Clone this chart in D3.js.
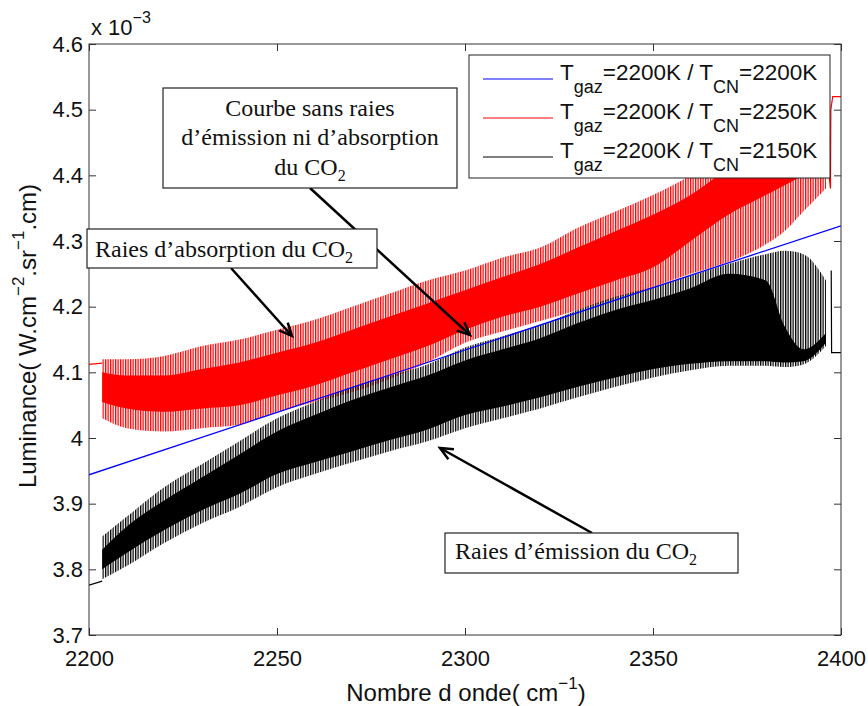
<!DOCTYPE html>
<html lang="fr">
<head>
<meta charset="UTF-8">
<title>Luminance CO2</title>
<script src="https://cdn.jsdelivr.net/npm/d3@7"></script>
<style>
  body { margin: 0; background: #fff; }
  svg text { font-family: "Liberation Sans", Arial, sans-serif; fill: #111; }
  .note text { font-family: "Liberation Serif", "Times New Roman", serif; }
</style>
</head>
<body>
<div id="chart"></div>
<script>
// wavenumber grid (cm-1) at which the band envelopes were read
const wn = [2203.5, 2210, 2220, 2230, 2240, 2250, 2260, 2270, 2280, 2290, 2300,
            2310, 2320, 2330, 2340, 2350, 2360, 2370, 2380, 2385, 2390, 2396];

// T_CN = 2250K (red) : extent of the lines and dense core
const redMax = [4.12, 4.12, 4.125, 4.14, 4.15, 4.165, 4.18, 4.2, 4.22, 4.24, 4.255,
                4.275, 4.29, 4.32, 4.345, 4.37, 4.40, 4.44, 4.47, 4.48, 4.49, 4.50];
const redMin = [4.03, 4.015, 4.01, 4.015, 4.02, 4.04, 4.055, 4.07, 4.09, 4.115, 4.145,
                4.162, 4.178, 4.195, 4.213, 4.23, 4.25, 4.268, 4.295, 4.315, 4.345, 4.38];
const redHi  = [4.10, 4.095, 4.095, 4.105, 4.115, 4.13, 4.145, 4.165, 4.185, 4.205, 4.225,
                4.245, 4.265, 4.29, 4.315, 4.34, 4.37, 4.41, 4.44, 4.45, 4.46, 4.47];
const redLo  = [4.055, 4.045, 4.04, 4.045, 4.05, 4.065, 4.08, 4.1, 4.12, 4.14, 4.165,
                4.185, 4.2, 4.22, 4.24, 4.26, 4.30, 4.34, 4.37, 4.385, 4.40, 4.42];
const redHead = [[2200, 4.112], [2203.5, 4.114]];
const redTail = [[2396, 4.44], [2397.2, 4.38], [2397.3, 4.50], [2397.8, 4.52], [2400, 4.52]];

// T_CN = 2150K (black)
const blackMax = [3.85, 3.88, 3.925, 3.96, 3.995, 4.03, 4.055, 4.078, 4.095, 4.112, 4.138,
                  4.155, 4.172, 4.195, 4.215, 4.23, 4.247, 4.265, 4.28, 4.285, 4.28, 4.24];
const blackMin = [3.785, 3.805, 3.84, 3.87, 3.895, 3.925, 3.945, 3.963, 3.98, 3.995, 4.015,
                  4.03, 4.045, 4.062, 4.078, 4.092, 4.103, 4.11, 4.11, 4.108, 4.112, 4.14];
const blackHi  = [3.83, 3.865, 3.905, 3.94, 3.975, 4.01, 4.035, 4.058, 4.077, 4.095, 4.118,
                  4.135, 4.152, 4.175, 4.195, 4.21, 4.228, 4.25, 4.24, 4.17, 4.135, 4.16];
const blackLo  = [3.80, 3.825, 3.86, 3.89, 3.915, 3.945, 3.963, 3.98, 3.997, 4.013, 4.035,
                  4.048, 4.062, 4.078, 4.092, 4.105, 4.113, 4.117, 4.117, 4.115, 4.117, 4.145];
const blackHead = [[2200, 3.776], [2203.5, 3.782]];
const blackTail = [[2397.4, 4.255], [2397.5, 4.13], [2400, 4.13]];

// T_CN = 2200K (blue), no lines
const blueWn  = [2200, 2250, 2300, 2350, 2400];
const blueVal = [3.944, 4.039, 4.134, 4.229, 4.323];

const xTicks = [2200, 2250, 2300, 2350, 2400];
const yTicks = [3.7, 3.8, 3.9, 4.0, 4.1, 4.2, 4.3, 4.4, 4.5, 4.6];
const yTickLabels = ["3.7", "3.8", "3.9", "4", "4.1", "4.2", "4.3", "4.4", "4.5", "4.6"];

const width = 868, height = 706;
const mLeft = 89, mRight = 841, mTop = 44, mBottom = 635;

const svg = d3.select("#chart").append("svg")
    .attr("width", width).attr("height", height);

const x = d3.scaleLinear().domain([2200, 2400]).range([mLeft, mRight]);
const y = d3.scaleLinear().domain([3.7, 4.6]).range([mBottom, mTop]);

// stripe patterns to mimic the dense spectral lines
const defs = svg.append("defs");
function stripes(id, color) {
    const p = defs.append("pattern").attr("id", id)
        .attr("patternUnits", "userSpaceOnUse").attr("width", 2.5).attr("height", 10);
    p.append("rect").attr("width", 1.3).attr("height", 10).attr("fill", color);
}
stripes("redLines", "#ff0000");
stripes("blackLines", "#000000");
defs.append("clipPath").attr("id", "plotClip")
    .append("rect").attr("x", mLeft).attr("y", mTop)
    .attr("width", mRight - mLeft).attr("height", mBottom - mTop);

const plot = svg.append("g").attr("clip-path", "url(#plotClip)");

function band(hi, lo) {
    return d3.area()
        .x((d, i) => x(wn[i]))
        .y0((d, i) => y(lo[i]))
        .y1((d, i) => y(hi[i]))
        .curve(d3.curveMonotoneX)(wn);
}
const line = d3.line().x(d => x(d[0])).y(d => y(d[1]));

function drawSeries(max, min, hi, lo, head, tail, color, pat) {
    plot.append("path").attr("d", band(max, min)).attr("fill", `url(#${pat})`);
    plot.append("path").attr("d", band(hi, lo)).attr("fill", color);
    [head, tail].forEach(pts => {
        plot.append("path").attr("d", line(pts))
            .attr("fill", "none").attr("stroke", color).attr("stroke-width", 1.2);
    });
}
drawSeries(redMax, redMin, redHi, redLo, redHead, redTail, "#ff0000", "redLines");
drawSeries(blackMax, blackMin, blackHi, blackLo, blackHead, blackTail, "#000000", "blackLines");

plot.append("path")
    .attr("d", line(blueWn.map((w, i) => [w, blueVal[i]])))
    .attr("fill", "none").attr("stroke", "#0000ff").attr("stroke-width", 1.3);

// axes, MATLAB style: box with inward ticks on all sides
const axisColor = "#333";
const tickFont = 22;
const gx = svg.append("g").attr("transform", `translate(0,${mBottom})`)
    .call(d3.axisBottom(x).tickValues(xTicks).tickSizeInner(-7).tickSizeOuter(0)
        .tickPadding(15).tickFormat(d3.format("d")));
const gxt = svg.append("g").attr("transform", `translate(0,${mTop})`)
    .call(d3.axisTop(x).tickValues(xTicks).tickSizeInner(-7).tickSizeOuter(0).tickFormat(""));
const gy = svg.append("g").attr("transform", `translate(${mLeft},0)`)
    .call(d3.axisLeft(y).tickValues(yTicks).tickSizeInner(-7).tickSizeOuter(0)
        .tickPadding(6).tickFormat((d, i) => yTickLabels[i]));
const gyr = svg.append("g").attr("transform", `translate(${mRight},0)`)
    .call(d3.axisRight(y).tickValues(yTicks).tickSizeInner(-7).tickSizeOuter(0).tickFormat(""));
[gx, gxt, gy, gyr].forEach(g => {
    g.select(".domain").remove();
    g.selectAll("line").attr("stroke", axisColor);
    g.selectAll("text").attr("font-size", tickFont)
        .attr("font-family", "Liberation Sans, Arial, sans-serif").attr("fill", "#111");
});
svg.append("rect").attr("x", mLeft).attr("y", mTop)
    .attr("width", mRight - mLeft).attr("height", mBottom - mTop)
    .attr("fill", "none").attr("stroke", axisColor).attr("stroke-width", 1);

// exponent
const ex = svg.append("text").attr("x", 91).attr("y", 35).attr("font-size", 22);
ex.append("tspan").text("x 10");
ex.append("tspan").attr("dy", -12).attr("font-size", 16).text("−3");

// axis titles
const xl = svg.append("text").attr("x", 466).attr("y", 701)
    .attr("text-anchor", "middle").attr("font-size", 24);
xl.append("tspan").text("Nombre d onde( cm");
xl.append("tspan").attr("dy", -12).attr("font-size", 17).text("−1");
xl.append("tspan").attr("dy", 12).text(")");

const yl = svg.append("text").attr("transform", "translate(36,336) rotate(-90)")
    .attr("text-anchor", "middle").attr("font-size", 24);
yl.append("tspan").text("Luminance( W.cm");
yl.append("tspan").attr("dy", -12).attr("font-size", 17).text("−2");
yl.append("tspan").attr("dy", 12).text(".sr");
yl.append("tspan").attr("dy", -12).attr("font-size", 17).text("−1");
yl.append("tspan").attr("dy", 12).text(".cm)");

// legend
const legendItems = [
    { color: "#0000ff", cn: "2200K" },
    { color: "#ff0000", cn: "2250K" },
    { color: "#000000", cn: "2150K" }
];
const lg = svg.append("g");
lg.append("rect").attr("x", 469).attr("y", 55).attr("width", 361).attr("height", 123)
    .attr("fill", "#fff").attr("stroke", "#222").attr("stroke-width", 1);
legendItems.forEach((it, i) => {
    const yy = 79 + i * 39;
    lg.append("line").attr("x1", 483).attr("x2", 553).attr("y1", yy).attr("y2", yy)
        .attr("stroke", it.color).attr("stroke-width", 1);
    const t = lg.append("text").attr("x", 560).attr("y", yy + 1).attr("font-size", 22.5);
    t.append("tspan").text("T");
    t.append("tspan").attr("dy", 13).attr("font-size", 18).text("gaz");
    t.append("tspan").attr("dy", -13).text("=2200K / T");
    t.append("tspan").attr("dy", 13).attr("font-size", 18).text("CN");
    t.append("tspan").attr("dy", -13).text("=" + it.cn);
});

// annotations
const notes = svg.append("g").attr("class", "note");
function box(x0, y0, w, h) {
    notes.append("rect").attr("x", x0).attr("y", y0).attr("width", w).attr("height", h)
        .attr("fill", "#fff").attr("stroke", "#222").attr("stroke-width", 1.2);
}
function co2(t) {
    t.append("tspan").text("CO");
    t.append("tspan").attr("dy", 6).attr("font-size", 16).text("2");
}
function arrow(x1, y1, x2, y2) {
    notes.append("line").attr("x1", x1).attr("y1", y1).attr("x2", x2).attr("y2", y2)
        .attr("stroke", "#000").attr("stroke-width", 2.5);
    const a = Math.atan2(y2 - y1, x2 - x1), L = 14, s = 0.42;
    const p = [[x2 - L * Math.cos(a - s), y2 - L * Math.sin(a - s)], [x2, y2],
               [x2 - L * Math.cos(a + s), y2 - L * Math.sin(a + s)]];
    notes.append("path").attr("d", d3.line()(p))
        .attr("fill", "none").attr("stroke", "#000").attr("stroke-width", 2.5)
        .attr("stroke-linejoin", "miter");
}

arrow(310, 188, 470, 335);
arrow(231, 268, 292, 336);
arrow(592, 533, 440, 448);

box(163, 88, 294, 100);
["Courbe sans raies", "d’émission ni d’absorption"].forEach((s, i) => {
    notes.append("text").attr("x", 310).attr("y", 116 + i * 29)
        .attr("text-anchor", "middle").attr("font-size", 24).text(s);
});
const t3 = notes.append("text").attr("x", 310).attr("y", 175)
    .attr("text-anchor", "middle").attr("font-size", 24);
t3.append("tspan").text("du ");
co2(t3);

box(87, 229, 290, 39);
const t2 = notes.append("text").attr("x", 95).attr("y", 257).attr("font-size", 24);
t2.append("tspan").text("Raies d’absorption du ");
co2(t2);

box(445, 533, 293, 40);
const t4 = notes.append("text").attr("x", 455).attr("y", 559).attr("font-size", 24);
t4.append("tspan").text("Raies d’émission du ");
co2(t4);
</script>
</body>
</html>
